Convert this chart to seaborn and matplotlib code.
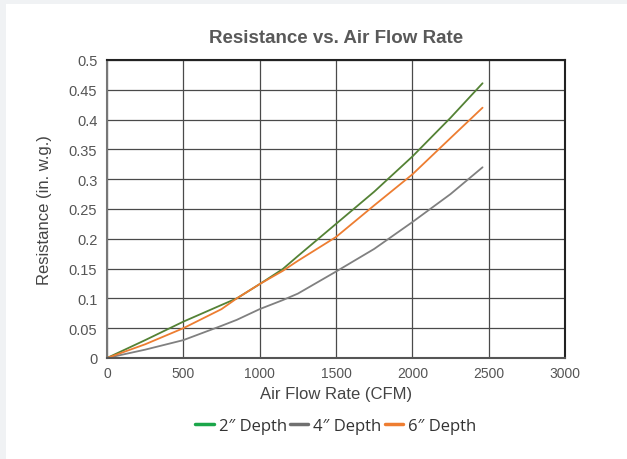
import matplotlib
matplotlib.use("Agg")
import matplotlib.pyplot as plt
import seaborn as sns
import pandas as pd

# Air flow (CFM) sample points
flow = [0, 250, 500, 750, 850, 1000, 1150, 1250, 1500, 1750, 2000, 2250, 2460]

# Resistance (in. w.g.) per filter depth
depth_2 = [0, 0.030, 0.061, 0.089, 0.100, 0.124, 0.149, 0.171, 0.225, 0.279, 0.338, 0.403, 0.461]
depth_4 = [0, 0.014, 0.030, 0.054, 0.064, 0.082, 0.097, 0.108, 0.145, 0.183, 0.228, 0.275, 0.320]
depth_6 = [0, 0.023, 0.050, 0.082, 0.100, 0.124, 0.146, 0.163, 0.203, 0.256, 0.308, 0.369, 0.420]

series_names = ['2″ Depth', '4″ Depth', '6″ Depth']
line_colors = ['#548235', '#808080', '#ED7D31']
legend_colors = ['#1BA64A', '#707070', '#EE7D31']

df = pd.DataFrame({
    "flow": flow * 3,
    "resistance": depth_2 + depth_4 + depth_6,
    "series": [series_names[0]] * len(flow) + [series_names[1]] * len(flow) + [series_names[2]] * len(flow),
})

sns.set_theme(style="white")
plt.rcParams['font.family'] = ['Liberation Sans', 'DejaVu Sans']

fig = plt.figure(figsize=(6.27, 4.60), dpi=100)
fig.patch.set_facecolor("#F0F2F4")
# white card
fig.add_artist(plt.Rectangle((6 / 627, 0), 1, 1 - 5 / 460, transform=fig.transFigure,
                             facecolor="white", edgecolor="none", zorder=0))

ax = fig.add_axes([107 / 627, 1 - 359 / 460, (565 - 107) / 627, (359 - 61) / 460])
sns.lineplot(data=df, x="flow", y="resistance", hue="series", palette=line_colors,
             linewidth=1.3, ax=ax, legend=False)
for ln in ax.lines:
    ln.set_solid_joinstyle("round")

ax.set_xlim(0, 3000)
ax.set_ylim(0, 0.5)
ax.set_xticks([0, 500, 1000, 1500, 2000, 2500, 3000])
ax.set_xticklabels(["0", "500", "1000", "1500", "2000", "2500", "3000"])
ax.set_yticks([0, 0.05, 0.1, 0.15, 0.2, 0.25, 0.3, 0.35, 0.4, 0.45, 0.5])
ax.set_yticklabels(["0", "0.05", "0.1", "0.15", "0.2", "0.25", "0.3", "0.35", "0.4", "0.45", "0.5"])
ax.tick_params(axis="y", labelsize=10.5, labelcolor="#555555", length=0, pad=7)
ax.tick_params(axis="x", labelsize=10, labelcolor="#555555", length=0, pad=6)
ax.grid(True, color="#4a4a4a", linewidth=0.9)
ax.set_axisbelow(True)
for s in ax.spines.values():
    s.set_color("#222222")
    s.set_linewidth(1.5)
    s.set_visible(True)
ax.spines["left"].set_color("#777777")
ax.spines["bottom"].set_color("#555555")

ax.set_xlabel("Air Flow Rate (CFM)", fontsize=12, color="#444444", labelpad=4)
ax.set_ylabel("Resistance (in. w.g.)", fontsize=12, color="#444444", labelpad=12)
ax.set_title("Resistance vs. Air Flow Rate", fontsize=13.5, fontweight="bold", color="#595959", pad=13)

handles = [plt.Line2D([], [], color=c, linewidth=2.5) for c in legend_colors]
fig.legend(handles, series_names, loc="center", bbox_to_anchor=(336 / 627, 1 - 427 / 460),
           ncol=3, frameon=False, handlelength=1.1, handletextpad=0.3,
           columnspacing=0.2, labelcolor="#333333", prop={"family": ["Open Sans", "DejaVu Sans"], "size": 12})

fig.savefig("out.png", dpi=100)
